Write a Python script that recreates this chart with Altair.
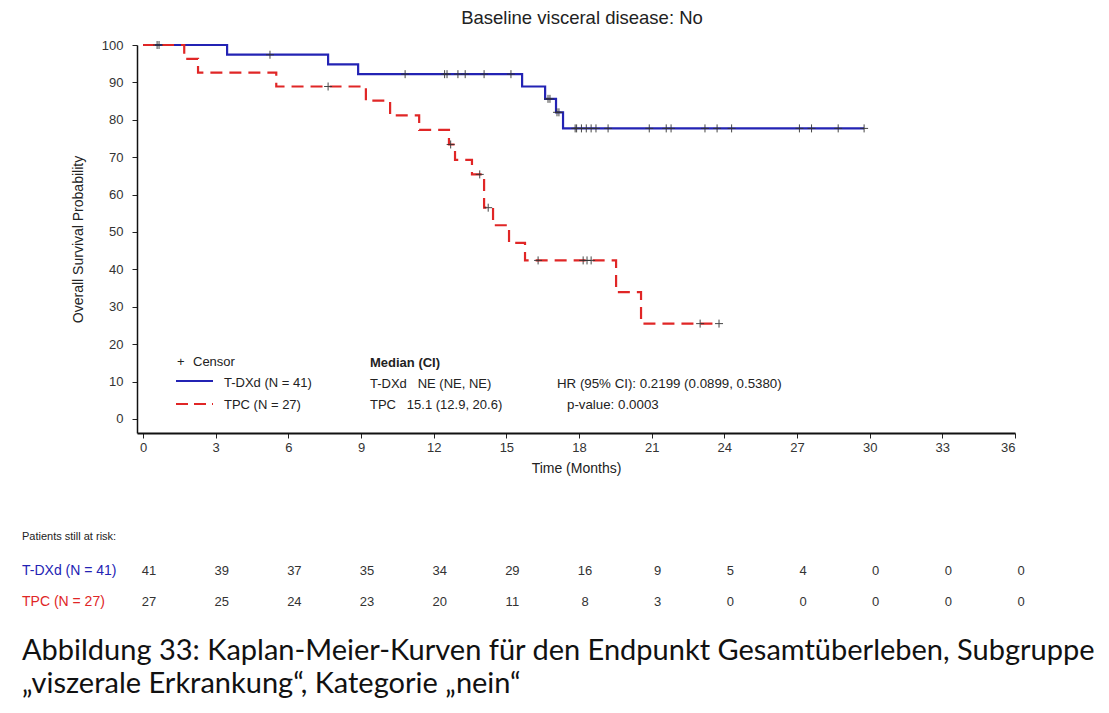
import altair as alt
import pandas as pd

# ---- Kaplan-Meier step coordinates: time in months, survival probability in % ----
tdxd_time = [0, 3.47, 7.64, 8.88, 15.65, 16.6, 17.05, 17.34, 29.77]
tdxd_surv = [100, 97.4, 94.8, 92.2, 88.9, 85.6, 82.0, 77.7, 77.7]

tpc_time = [0, 1.7, 2.27, 5.5, 9.2, 10.2, 11.4, 12.63, 12.88, 13.58,
            14.08, 14.45, 15.11, 15.77, 19.53, 20.56, 23.78]
tpc_surv = [100, 96.3, 92.6, 88.9, 85.1, 81.2, 77.3, 73.4, 69.3, 65.4,
            56.5, 51.8, 47.1, 42.4, 33.9, 25.5, 25.5]

# ---- censoring times (months) ----
tdxd_censor = [0.58, 0.66, 5.24, 10.82, 12.45, 12.55, 13.0, 13.3, 14.08, 15.19,
               16.72, 16.8, 17.09, 17.17, 17.84, 17.9, 18.1, 18.3, 18.5, 18.7,
               19.2, 20.9, 21.6, 21.8, 23.2, 23.7, 24.3, 27.1, 27.6, 28.7, 29.77]
tpc_censor = [7.64, 12.7, 13.9, 14.25, 16.31, 18.17, 18.33, 18.5, 23.0, 23.78]

# ---- numbers at risk ----
risk_months = [0, 3, 6, 9, 12, 15, 18, 21, 24, 27, 30, 33, 36]
tdxd_risk = [41, 39, 37, 35, 34, 29, 16, 9, 5, 4, 0, 0, 0]
tpc_risk = [27, 25, 24, 23, 20, 11, 8, 3, 0, 0, 0, 0, 0]

x_ticks = list(range(0, 37, 3))
y_ticks = list(range(0, 101, 10))

SANS = "Liberation Sans"
BLUE = "#2323b4"
RED = "#e02626"
W, H = 878, 388
NB = "\u00a0"


def surv_at(times, survs, t):
    """Survival value of the step function at time t."""
    val = survs[0]
    for ti, si in zip(times, survs):
        if ti <= t:
            val = si
    return val


tdxd_df = pd.DataFrame({"t": tdxd_time, "s": tdxd_surv})
tpc_df = pd.DataFrame({"t": tpc_time, "s": tpc_surv})
cens_df = pd.DataFrame({
    "t": tdxd_censor + tpc_censor,
    "s": [surv_at(tdxd_time, tdxd_surv, c) for c in tdxd_censor]
    + [surv_at(tpc_time, tpc_surv, c) for c in tpc_censor],
})
risk_df = pd.DataFrame({
    "t": risk_months + risk_months,
    "n": [str(v) for v in tdxd_risk + tpc_risk],
    "row": ["a"] * len(risk_months) + ["b"] * len(risk_months),
})

x_scale = alt.Scale(domain=[-0.25, 36], nice=False, zero=False)
y_scale = alt.Scale(domain=[-3.75, 100], nice=False, zero=False)

x_axis = alt.Axis(values=x_ticks, title="Time (Months)", grid=False,
                  labelFont=SANS, labelFontSize=13, labelColor="#333",
                  titleFont=SANS, titleFontSize=14, titleFontWeight="normal",
                  titleColor="#222", tickSize=5, tickColor="#222",
                  domainColor="#111", domainWidth=2, labelPadding=3,
                  titlePadding=7)
y_axis = alt.Axis(values=y_ticks, title="Overall Survival Probability",
                  grid=False, labelFont=SANS, labelFontSize=13,
                  labelColor="#333", titleFont=SANS, titleFontSize=14,
                  titleFontWeight="normal", titleColor="#222", tickSize=5,
                  tickColor="#222", domainColor="#111", domainWidth=1.5,
                  labelPadding=9, titlePadding=16)

X = alt.X("t:Q", scale=x_scale, axis=x_axis)
Y = alt.Y("s:Q", scale=y_scale, axis=y_axis)

blue_line = alt.Chart(tdxd_df).mark_line(
    interpolate="step-after", color=BLUE, strokeWidth=2.2
).encode(x=X, y=Y)

red_line = alt.Chart(tpc_df).mark_line(
    interpolate="step-after", color=RED, strokeWidth=2.2, strokeDash=[12, 7]
).encode(x=X, y=Y)

censors = alt.Chart(cens_df).mark_point(
    shape="M0,-1L0,1M-1,0L1,0", size=64, filled=False,
    stroke="#333", strokeWidth=1, opacity=0.9
).encode(x=X, y=Y)

one = pd.DataFrame({"k": [0]})


def label(txt, x, y, size=13, color="#222", weight="normal", align="left",
          font=SANS):
    return alt.Chart(one).mark_text(
        text=txt, align=align, baseline="middle", fontSize=size, font=font,
        color=color, fontWeight=weight
    ).encode(x=alt.value(x), y=alt.value(y))


def sample(y, color, dash=None):
    kw = dict(color=color, strokeWidth=2.2)
    if dash:
        kw["strokeDash"] = dash
    return alt.Chart(one).mark_rule(**kw).encode(
        x=alt.value(39), x2=alt.value(76), y=alt.value(y)
    )


annotations = [
    label("Baseline visceral disease: No", 445, -27, size=18.5, align="center"),
    # legend block
    label("+", 40, 317),
    label("Censor", 56, 317),
    sample(336, BLUE),
    label("T-DXd (N = 41)", 87, 338),
    sample(359, RED, [12, 6]),
    label("TPC (N = 27)", 87, 360),
    label("Median (CI)", 233, 318, weight="bold"),
    label(f"T-DXd{NB*3}NE (NE, NE)", 233, 339),
    label(f"TPC{NB*3}15.1 (12.9, 20.6)", 233, 360),
    label("HR (95% CI): 0.2199 (0.0899, 0.5380)", 420, 339, size=13.3),
    label("p-value: 0.0003", 430, 360, size=13.3),
    # risk table headings
    label("Patients still at risk:", -115, 492, size=11),
    label("T-DXd (N = 41)", -115, 526, size=14, color=BLUE),
    label("TPC (N = 27)", -115, 557, size=14, color=RED),
    # caption
    label("Abbildung 33: Kaplan-Meier-Kurven für den Endpunkt Gesamtüberleben, Subgruppe",
          -115, 606, size=29, color="#111", font="Lato"),
    label("„viszerale Erkrankung“, Kategorie „nein“",
          -115, 639, size=29, color="#111", font="Lato"),
]

risk_rows = []
for row, ypix in (("a", 526), ("b", 557)):
    risk_rows.append(
        alt.Chart(risk_df).transform_filter(alt.datum.row == row).mark_text(
            font=SANS, fontSize=13, color="#333", align="center",
            baseline="middle", dx=6
        ).encode(x=X, y=alt.value(ypix), text="n:N")
    )

chart = alt.layer(
    blue_line, red_line, censors, *risk_rows, *annotations
).properties(
    width=W, height=H,
    autosize=alt.AutoSizeParams(type="none"),
    padding={"left": 137, "top": 45, "right": 94, "bottom": 280},
    background="white",
).configure_view(stroke=None)

chart.save("out.html", embed_options={"renderer": "svg", "actions": False})
